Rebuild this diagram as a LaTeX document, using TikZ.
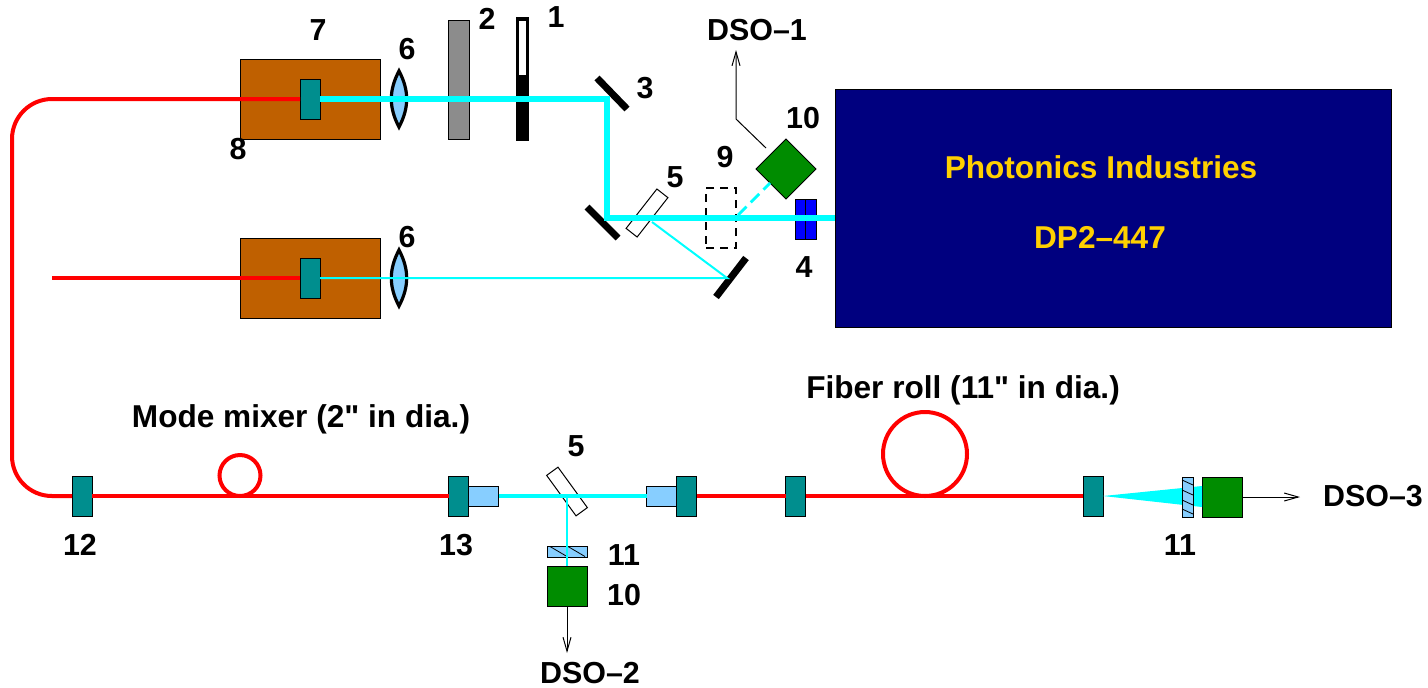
\documentclass[tikz,border=0pt]{standalone}
\usepackage{fontspec}
\setmainfont{Liberation Sans}
\newfontfamily\plainfont{Liberation Sans}
\usepackage{tikz}
\usetikzlibrary{positioning, arrows.meta}
\definecolor{fibteal}{HTML}{008E8E}
\definecolor{ovenbrown}{HTML}{BF6000}
\definecolor{lensblue}{HTML}{87CEFF}
\definecolor{detgreen}{HTML}{008C00}
\definecolor{lasernavy}{HTML}{00007F}
\definecolor{labelgold}{HTML}{FFD000}
\definecolor{beamcyan}{HTML}{00FFFF}
\definecolor{attngray}{HTML}{8C8C8C}
\definecolor{firered}{HTML}{FF0000}
\definecolor{sepblue}{HTML}{0000FF}
\tikzset{
    part/.style={rectangle, draw, line width=0.5pt, inner sep=0pt, outer sep=0pt},
    oven/.style={part, fill=ovenbrown, minimum width=70pt, minimum height=40pt},
    coupler/.style={part, fill=fibteal, minimum width=10pt, minimum height=20pt},
    barrel/.style={part, fill=lensblue, minimum width=15pt, minimum height=10pt},
    detector/.style={part, fill=detgreen, minimum width=20pt, minimum height=20pt},
    splitter/.style={part, minimum width=25pt, minimum height=7pt},
    label/.style={inner sep=0pt, font=\fontsize{15.2}{18}\selectfont\bfseries},
    longlabel/.style={inner sep=0pt, font=\fontsize{15.8}{18}\selectfont\bfseries},
    redfiber/.style={firered, line width=2pt},
    beam/.style={beamcyan, line width=3pt},
    thinbeam/.style={beamcyan, line width=1pt},
    mirror/.style={line width=3.5pt},
    signal/.style={line width=0.5pt, -{Straight Barb[length=7pt,width=4pt]}},
    lens/.pic={
        \draw[line width=1.6pt, fill=lensblue] (0,-28) to[bend left=28] (0,28) to[bend left=28] (0,-28) -- cycle;
    }
}

\begin{document}
\begin{tikzpicture}[x=0.5pt, y=-0.5pt]
    \useasboundingbox (0,0) rectangle (1428,687);
    % upper branch
    \node[oven] (ovenA) at (310,99.5) {};
    \node[oven] (ovenB) at (310,278) {};
    \node[coupler] (crystalA) at (310,99) {};
    \node[coupler] (crystalB) at (310,278) {};
    \coordinate (startB) at (52,278);
    \coordinate (bendA) at (12,99);
    \coordinate (bendB) at (12,496);
    \pic at (399,99) {lens};
    \pic at (399,278) {lens};
    \node[part, fill=attngray, minimum width=10.5pt, minimum height=59.5pt] (attn) at (458.5,79.5) {};
    \node[part, line width=1.8pt, fill=white, minimum width=5pt, minimum height=29pt] (shutteropen) at (522.5,48) {};
    \node[part, line width=1.8pt, fill=black, minimum width=5pt, minimum height=30pt] (shutter) at (522.5,109.5) {};

    % mirrors
    \coordinate (mirrorAa) at (597,78);
    \coordinate (mirrorAb) at (627,109);
    \coordinate (mirrorBa) at (587,207);
    \coordinate (mirrorBb) at (618,238);
    \coordinate (mirrorCa) at (746,258);
    \coordinate (mirrorCb) at (716,297);
    \draw[mirror] (mirrorAa) -- (mirrorAb);
    \draw[mirror] (mirrorBa) -- (mirrorBb);
    \draw[mirror] (mirrorCa) -- (mirrorCb);

    \node[splitter, rotate=52] (bsA) at (647,213) {};
    \node[part, line width=0.7pt, dash pattern=on 4pt off 3pt, minimum width=15pt, minimum height=30pt] (flip) at (721,218) {};
    \node[part, fill=detgreen, rotate=45, minimum width=21.2pt, minimum height=21.2pt] (detA) at (786,169) {};
    \node[part, fill=sepblue, minimum width=5.2pt, minimum height=20pt] (sepA) at (800.5,219) {};
    \node[part, fill=sepblue, minimum width=5.2pt, minimum height=20pt] (sepB) at (810.8,219) {};
    \node[part, fill=lasernavy, minimum width=278pt, minimum height=119pt] (laser) at (1113,208) {};
    \node[longlabel, text=labelgold] (lasername) at (1101,167) {Photonics Industries};
    \node[longlabel, text=labelgold] (lasermodel) at (1100,237) {DP2--447};

    % beams
    \coordinate (turnA) at (607,99);
    \coordinate (turnB) at (607,218);
    \coordinate (bsAout) at (652,222);
    \coordinate (mirrorChit) at (727,278);
    \coordinate (pick) at (738,215);
    \coordinate (pickend) at (770,183);
    \coordinate (kneeA) at (736,119);
    \coordinate (arrowA) at (736,50);
    \coordinate (detAout) at (766,148);
    \draw[redfiber] (crystalB.west) -- (startB);
    \draw[beam] (crystalA.east) -- (turnA) -- (turnB) -- (laser.west |- turnB);
    \draw[thinbeam] (crystalB.east) -- (mirrorChit) -- (bsAout);
    \draw[beamcyan, line width=1.4pt, dash pattern=on 6pt off 3pt] (pick) -- (pickend);
    \draw[signal] (detAout) -- (kneeA) -- (arrowA);

    % fibre line
    \node[coupler] (cplA) at (82,496) {};
    \node[coupler] (cplB) at (458.5,496) {};
    \node[barrel, right=0pt of cplB] (barB) {};
    \node[coupler] (cplC) at (686.5,496) {};
    \node[barrel, left=0pt of cplC] (barC) {};
    \node[coupler] (cplD) at (795.5,496) {};
    \node[coupler] (cplE) at (1093,496) {};
    \node[draw=firered, line width=2pt, circle, inner sep=0pt, minimum size=20.5pt] (mixer) at (240,475.5) {};
    \node[draw=firered, line width=2pt, circle, inner sep=0pt, minimum size=42pt] (roll) at (925,454) {};
    \draw[redfiber, rounded corners=20pt] (crystalA.west) -- (bendA) -- (bendB) -- (cplA.west);
    \draw[redfiber] (cplA.east) -- (cplB.west);
    \draw[redfiber] (cplC.east) -- (cplD.west);
    \draw[redfiber] (cplD.east) -- (cplE.west);

    % detection at the middle
    \node[splitter, rotate=-54] (bsB) at (567,491.5) {};
    \node[part, fill=lensblue, minimum width=20pt, minimum height=5.5pt] (plateA) at (567,551.5) {};
    \foreach \x in {550,568} {
        \draw[line width=0.4pt] (\x,546.5) -- (\x+17,556.5);
    }
    \node[detector] (detB) at (567,586) {};
    \coordinate (bsBout) at (567,496);
    \coordinate (arrowB) at (567,653);
    \draw[beamcyan, line width=2pt] (barB.east) -- (barC.west);
    \draw[thinbeam] (bsBout) -- (detB.north);
    \draw[signal] (detB.south) -- (arrowB);

    % detection at the end
    \node[detector] (detC) at (1222,497) {};
    \coordinate (coneT) at (1202,486);
    \coordinate (coneB) at (1202,507);
    \coordinate (arrowC) at (1300,497);
    \fill[beamcyan] (cplE.east) -- (coneT) -- (coneB) -- cycle;
    \node[part, fill=lensblue, minimum width=5.5pt, minimum height=20pt] (plateB) at (1187.5,497) {};
    \foreach \y in {480,490,500,509} {
        \draw[line width=0.4pt] (1182,\y) -- (1193,\y+5);
    }
    \draw[signal] (detC.east) -- (arrowC);

    % labels
    \node[label] (lab7) at (318,30) {7};
    \node[label] (lab6a) at (407,49) {6};
    \node[label] (lab2) at (487,19) {2};
    \node[label] (lab1) at (556,17) {1};
    \node[label] (lab3) at (645,88) {3};
    \node[label] (lab8) at (238,149) {8};
    \node[label] (lab6b) at (407,237) {6};
    \node[label] (dsoA) at (757,30) {DSO--1};
    \node[label] (lab10a) at (803,118) {10};
    \node[label] (lab9) at (725,157) {9};
    \node[label] (lab5a) at (675,177) {5};
    \node[label] (lab4) at (804,267) {4};
    \node[label] (lab5b) at (576,446) {5};
    \node[label] (lab11a) at (624,555) {11};
    \node[label] (lab10b) at (624,595) {10};
    \node[label] (lab13) at (456,545) {13};
    \node[label] (lab12) at (80,545) {12};
    \node[label] (lab11b) at (1180,545) {11};
    \node[label] (dsoB) at (590,673) {DSO--2};
    \node[label] (dsoC) at (1373,496) {DSO--3};
    \node[longlabel] (mixertext) at (301,419) {\plainfont Mode mixer (2" in dia.)};
    \node[longlabel] (rolltext) at (963,390) {\plainfont Fiber roll (11" in dia.)};
\end{tikzpicture}
\end{document}
